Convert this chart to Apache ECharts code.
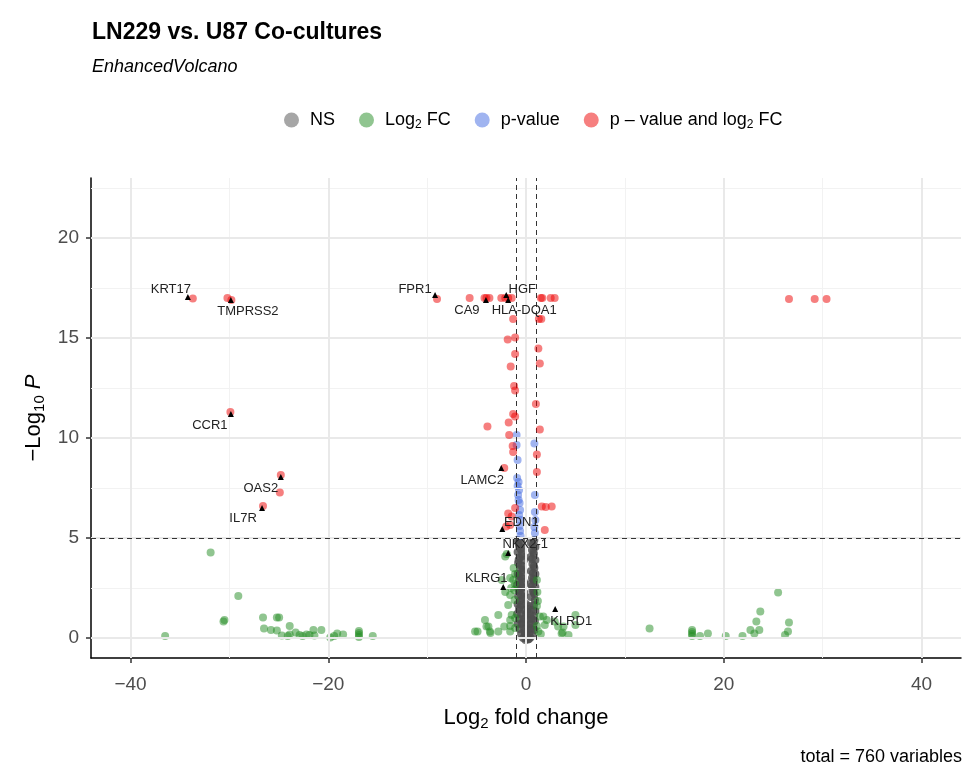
<!DOCTYPE html>
<html>
<head>
<meta charset="utf-8">
<script src="https://cdn.jsdelivr.net/npm/echarts@6/dist/echarts.min.js"></script>
<style>html,body{margin:0;padding:0;background:#fff}#c{width:976px;height:777px}</style>
</head>
<body>
<div id="c"></div>
<script>
// ---- Data ----
const xTicks = [-40, -20, 0, 20, 40];
const xMinorGrid = [-30, -10, 10, 30];
const yTicks = [0, 5, 10, 15, 20];
const yMinorGrid = [2.5, 7.5, 12.5, 17.5, 22.5];
const fcCutoffs = [-1, 1];
const pCutoff = 5;

const legendNames = ['NS', 'Log2 FC', 'p-value', 'p - value and log2 FC'];

// NS (grey)
const nsPoints = [
  [-0.85,4.9],[-0.4,4.85],[-0.7,4.6],[-0.3,4.5],[-0.85,4.3],[-0.45,4.2],[-0.65,4.0],[-0.2,3.9],
  [-0.8,3.75],[-0.4,3.6],[-0.6,3.45],[-0.25,3.3],[-0.85,3.2],[-0.5,3.05],[-0.7,2.9],[-0.2,2.8],
  [-0.9,2.65],[-0.45,2.5],[-0.65,2.35],[-0.15,2.25],[-0.8,2.1],[-0.35,1.95],[-0.6,1.85],
  [-0.75,4.75],[-0.55,4.45],[-0.35,4.1],[-0.75,3.9],[-0.55,3.65],[-0.35,3.4],[-0.7,3.1],[-0.35,2.95],
  [-0.6,2.7],[-0.3,2.55],[-0.75,2.4],[-0.5,2.15],[-0.25,2.05],
  [0.85,4.9],[0.5,4.75],[0.95,4.55],[0.6,4.4],[0.8,4.2],[0.45,4.05],[0.95,3.9],[0.65,3.7],
  [0.85,3.5],[0.5,3.35],[0.95,3.2],[0.6,3.0],[0.8,2.85],[0.45,2.7],[0.95,2.55],[0.65,2.4],
  [0.85,2.2],[0.5,2.05],[0.9,1.9],[0.7,4.65],[0.75,4.3],[0.6,3.95],[0.8,3.6],[0.7,3.25],
  [0.75,2.95],[0.6,2.6],[0.75,2.3],
  [-0.85,1.7],[-0.45,1.65],[0.0,1.7],[0.35,1.6],[0.8,1.65],[-0.7,1.45],[-0.2,1.4],[0.2,1.45],
  [0.6,1.4],[0.95,1.35],[-0.9,1.2],[-0.5,1.2],[-0.05,1.15],[0.4,1.2],[0.8,1.1],[-0.7,0.95],
  [-0.25,0.95],[0.15,0.9],[0.6,0.95],[0.9,0.85],[-0.85,0.7],[-0.45,0.7],[0.0,0.65],[0.35,0.7],
  [0.75,0.65],[-0.65,0.45],[-0.2,0.45],[0.2,0.4],[0.55,0.45],[0.85,0.4],[-0.5,0.2],[-0.1,0.2],
  [0.3,0.2],[0.65,0.15],[-0.3,0.0],[0.1,0.0],[0.45,0.02],[-0.05,-0.1],[0.2,-0.08],
  [-0.6,1.55],[0.1,1.3],[0.5,1.0],[-0.3,0.8],[0.4,0.5],[-0.15,0.3],[0.05,0.1],[0.3,-0.05]
];

// Log2 FC only (green)
const fcPoints = [
  [-31.9,4.28],[-29.1,2.1],[-30.6,0.82],[-30.5,0.9],[-36.5,0.1],[-26.6,1.03],[-25.2,1.03],[-24.97,1.03],
  [-23.9,0.6],[-26.5,0.48],[-25.8,0.4],[-25.2,0.37],[-24.7,0.12],[-24.1,0.1],[-23.9,0.17],[-23.3,0.28],
  [-22.9,0.15],[-22.6,0.1],[-22.2,0.17],[-21.9,0.15],[-21.5,0.4],[-21.4,0.12],[-20.7,0.4],[-19.8,0.03],
  [-19.4,0.1],[-19.1,0.23],[-18.5,0.18],[-16.9,0.05],[-16.9,0.15],[-16.9,0.25],[-16.9,0.35],[-15.5,0.1],
  [12.5,0.48],[16.8,0.1],[16.8,0.2],[16.8,0.3],[16.8,0.4],[17.6,0.1],[18.4,0.23],[20.2,0.1],
  [21.9,0.1],[22.7,0.4],[23.1,0.23],[23.6,0.4],[23.3,0.82],[23.7,1.33],[25.5,2.27],[26.6,0.77],
  [26.5,0.32],[26.2,0.15],
  [-1.95,4.2],[-2.1,4.07],[-2.45,2.9],[-1.6,3.0],[-1.3,2.9],[-1.1,2.7],[-1.5,2.5],[-1.2,2.4],
  [-2.1,2.3],[-1.6,2.15],[-1.8,1.65],[-1.45,1.15],[-2.8,1.15],[-4.15,0.9],[-4.0,0.57],[-5.15,0.32],
  [-4.9,0.32],[-3.8,0.57],[-3.65,0.32],[-3.6,0.25],[-2.8,0.32],[-2.2,0.57],[-1.6,0.9],[-1.6,0.32],
  [-1.6,0.6],[-1.1,1.0],[-1.1,0.5],[-1.15,1.9],[-1.1,3.2],[-1.25,3.5],
  [1.2,1.85],[1.1,1.6],[1.4,1.07],[1.75,1.07],[1.9,0.65],[1.25,0.32],[2.9,0.82],[3.25,0.57],
  [3.6,0.23],[4.3,0.15],[2.1,0.9],[3.8,0.57],[3.7,0.27],[5.0,0.65],[5.0,1.15],[1.1,0.6],
  [1.5,0.2],[1.15,2.3],[1.1,2.9]
];

// p-value only (blue)
const pPoints = [
  [-0.95,10.15],[-0.95,9.65],[-0.85,8.9],[-0.9,8.0],[-0.75,7.8],[-0.85,7.6],[-0.7,7.4],[-0.8,7.15],
  [-0.75,6.9],[-0.65,6.75],[-0.6,6.4],[-0.7,6.15],[-0.55,5.9],[-0.65,5.6],[-0.6,5.35],[-0.55,5.1],
  [0.85,9.73],[0.9,7.15],[0.9,6.3],[0.95,5.9],[0.85,5.55],[0.9,5.25]
];

// p-value and log2 FC (red)
const bothPoints = [
  [-33.7,16.97],[-30.2,17.0],[-29.8,16.9],[-9.0,16.95],[-5.7,17.0],[-4.2,17.0],[-4.0,17.0],[-3.7,17.0],
  [-2.5,17.0],[-2.1,17.0],[-1.8,17.0],[-1.45,17.0],[1.5,17.0],[1.65,17.0],[2.5,17.0],[2.9,17.0],
  [26.6,16.95],[29.2,16.95],[30.4,16.95],
  [-1.3,15.95],[1.3,15.95],[1.55,15.95],[-1.85,14.93],[-1.1,15.03],[-1.1,14.2],[1.25,14.48],
  [-1.55,13.57],[1.4,13.73],[-1.2,12.6],[-1.1,12.37],[1.0,11.7],[-1.3,11.2],[-1.1,11.07],
  [-3.9,10.57],[-1.75,10.78],[1.4,10.43],[-1.7,10.15],[-1.35,9.6],[-1.3,9.3],[1.1,9.18],
  [-2.2,8.5],[1.1,8.3],[1.6,6.57],[2.0,6.55],[2.6,6.57],[-1.1,6.5],[-1.8,6.23],[-1.45,6.07],
  [1.9,5.4],[-1.6,5.65],[-2.0,5.57],
  [-29.9,11.3],[-24.8,8.15],[-24.9,7.28],[-26.6,6.6]
];

// Labelled genes (connector arrow tips)
const labelGenes = ['KRT17','TMPRSS2','FPR1','HGF','CA9','HLA-DQA1','CCR1','OAS2','IL7R','LAMC2','EDN1','NKX2-1','KLRG1','KLRD1'];
const labelFC    = [-34.2, -29.85, -9.2, -2.0, -4.05, -1.8, -29.85, -24.8, -26.7, -2.5, -2.4, -1.8, -2.3, 2.95];
const labelLogP  = [17.05, 16.9, 17.15, 17.15, 16.9, 16.9, 11.2, 8.05, 6.5, 8.5, 5.45, 4.25, 2.55, 1.45];

const totalVariables = 760;

// ---- Styles (label text displacement from arrow tips, px) ----
const labelOffsets = {
  'KRT17':[-17,-8],'TMPRSS2':[17,11],'FPR1':[-20,-6],'HGF':[16,-6],'CA9':[-19,10],'HLA-DQA1':[16,10],
  'CCR1':[-21,11],'OAS2':[-20,11],'IL7R':[-19,10],'LAMC2':[-19,12],'EDN1':[19,-7],'NKX2-1':[17,-9],
  'KLRG1':[-17,-9],'KLRD1':[16,12]
};

const FONT = 'Liberation Sans, Arial, sans-serif';
const colors = { ns:'#4D4D4D', fc:'#228B22', p:'#4169E1', both:'#EE0000' };
const minusFmt = v => String(v).replace('-', '\u2212');

const chart = echarts.init(document.getElementById('c'), null, {renderer:'canvas'});

const legendRich = {
  a:{fontSize:18, fontFamily:FONT, color:'#000'},
  s:{fontSize:12, fontFamily:FONT, color:'#000', padding:[10,0,0,0]}
};

const labelData = labelGenes.map((g,i)=>({ name:g, value:[labelFC[i], labelLogP[i]] }));

const option = {
  animation:false,
  backgroundColor:'#fff',
  title:[
    {text:'LN229 vs. U87 Co-cultures', left:92, top:21, padding:0,
      textStyle:{fontSize:23, fontWeight:'bold', fontFamily:FONT, color:'#000'}},
    {text:'EnhancedVolcano', left:92, top:58, padding:0,
      textStyle:{fontSize:18, fontStyle:'italic', fontWeight:'normal', fontFamily:FONT, color:'#000'}}
  ],
  legend:{
    left:284, top:111, padding:0, itemWidth:15, itemHeight:15, itemGap:24,
    icon:'circle',
    data:legendNames.map(n=>({name:n, itemStyle:{opacity:0.5}})),
    formatter:function(n){
      if(n==='NS') return '{a|NS}';
      if(n==='Log2 FC') return '{a|Log}{s|2}{a| FC}';
      if(n==='p-value') return '{a|p-value}';
      return '{a|p \u2013 value and log}{s|2}{a| FC}';
    },
    textStyle:{fontSize:18, fontFamily:FONT, color:'#000', padding:[0,0,0,6], rich:legendRich}
  },
  grid:{left:91, right:15, top:178, bottom:119, containLabel:false},
  xAxis:{
    type:'value', min:-44, max:44,
    name:'{a|Log}{s|2}{a| fold change}', nameLocation:'middle', nameGap:47,
    nameTextStyle:{rich:{a:{fontSize:22, fontFamily:FONT, color:'#000'}, s:{fontSize:15, fontFamily:FONT, color:'#000', padding:[11,0,0,0]}}},
    axisLine:{show:true, onZero:false, lineStyle:{color:'#000', width:1.5}},
    axisTick:{show:true, customValues:xTicks, length:5, lineStyle:{color:'#333', width:1.5}},
    axisLabel:{customValues:xTicks, formatter:minusFmt, fontSize:19, fontFamily:FONT, color:'#4d4d4d', margin:17},
    splitLine:{show:false}
  },
  yAxis:{
    type:'value', min:-1, max:23,
    name:'{a|\u2212Log}{s|10}{i| P}', nameLocation:'middle', nameGap:34, nameRotate:90,
    nameTextStyle:{rich:{a:{fontSize:22, fontFamily:FONT, color:'#000'}, s:{fontSize:15, fontFamily:FONT, color:'#000', padding:[11,0,0,0]}, i:{fontSize:22, fontFamily:FONT, fontStyle:'italic', color:'#000'}}},
    axisLine:{show:true, onZero:false, lineStyle:{color:'#000', width:1.5}},
    axisTick:{show:true, customValues:yTicks, length:5, lineStyle:{color:'#333', width:1.5}},
    axisLabel:{customValues:yTicks, formatter:minusFmt, fontSize:19, fontFamily:FONT, color:'#4d4d4d', margin:12},
    splitLine:{show:false}
  },
  graphic:[
    {type:'text', right:14, top:748, style:{text:'total = ' + totalVariables + ' variables', font:'18px ' + FONT, fill:'#000'}}
  ],
  series:[
    {
      type:'scatter', name:'_grid', data:[], z:0, silent:true,
      markLine:{silent:true, symbol:['none','none'], label:{show:false}, animation:false,
        data:[].concat(
          xMinorGrid.map(v=>({xAxis:v, lineStyle:{color:'#f2f2f2', width:1, type:'solid'}})),
          yMinorGrid.map(v=>({yAxis:v, lineStyle:{color:'#f2f2f2', width:1, type:'solid'}})),
          xTicks.map(v=>({xAxis:v, lineStyle:{color:'#e9e9e9', width:2, type:'solid'}})),
          yTicks.map(v=>({yAxis:v, lineStyle:{color:'#e9e9e9', width:2, type:'solid'}}))
        )}
    },
    {type:'scatter', name:legendNames[0], data:nsPoints, symbolSize:8, z:2,
      itemStyle:{color:colors.ns, opacity:0.8}},
    {type:'scatter', name:legendNames[1], data:fcPoints, symbolSize:8, z:3,
      itemStyle:{color:colors.fc, opacity:0.5}},
    {type:'scatter', name:legendNames[2], data:pPoints, symbolSize:8, z:4,
      itemStyle:{color:colors.p, opacity:0.5}},
    {type:'scatter', name:legendNames[3], data:bothPoints, symbolSize:8, z:5,
      itemStyle:{color:colors.both, opacity:0.5}},
    {
      type:'scatter', name:'_cutoffs', data:[], z:6, silent:true,
      markLine:{silent:true, symbol:['none','none'], label:{show:false}, animation:false,
        lineStyle:{color:'#333', width:1, type:[5,4]},
        data:fcCutoffs.map(v=>({xAxis:v})).concat([{yAxis:pCutoff}])}
    },
    {type:'scatter', name:'_labels', data:labelData, symbol:'triangle', symbolSize:6, z:8,
      itemStyle:{color:'#000', opacity:1},
      label:{show:true, formatter:'{b}', position:'inside', fontSize:13, fontFamily:FONT, color:'#222'},
      labelLayout:function(p){
        const o = labelOffsets[labelGenes[p.dataIndex]];
        return {dx:o[0], dy:o[1], hideOverlap:false};
      }}
  ]
};
chart.setOption(option);
</script>
</body>
</html>
